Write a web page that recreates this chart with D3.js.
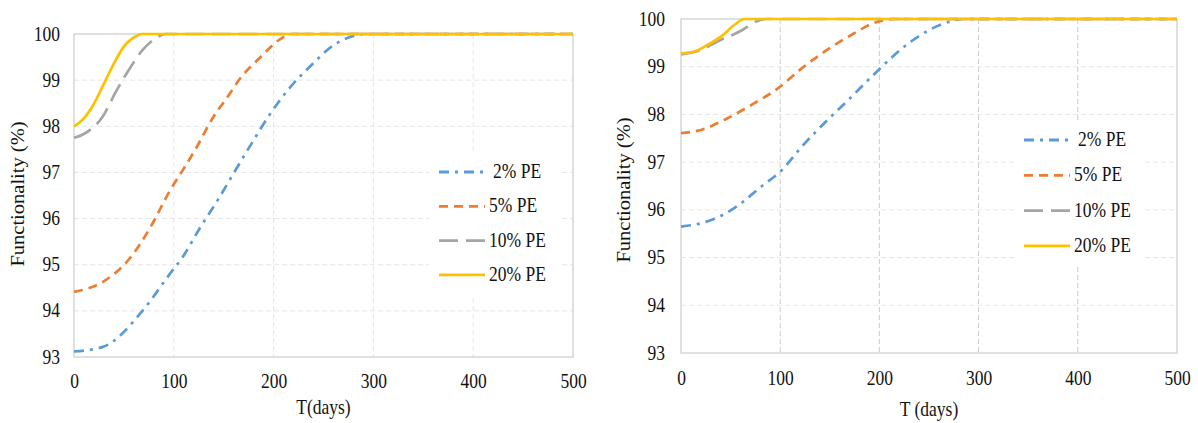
<!DOCTYPE html>
<html>
<head>
<meta charset="utf-8">
<script src="https://cdn.jsdelivr.net/npm/d3@7"></script>
<style>
  body { margin: 0; background: #fff; }
  svg text { font-family: "Liberation Serif", "Times New Roman", serif; }
</style>
</head>
<body>
<svg id="viz" width="1198" height="423"></svg>
<script>
// tick labels
var xTicks = [0, 100, 200, 300, 400, 500];
var yTicks = [93, 94, 95, 96, 97, 98, 99, 100];
var seriesNames = ["2% PE", "5% PE", "10% PE", "20% PE"];

// left chart
var leftDays2  = [0, 29, 69, 96, 109, 126, 144, 161, 178, 196, 216, 238, 261, 279, 290, 500];
var leftVals2  = [93.12, 93.22, 94.01, 94.8, 95.17, 95.79, 96.4, 97.02, 97.63, 98.25, 98.83, 99.33, 99.77, 99.95, 100, 100];
var leftDays5  = [0, 29, 56, 76, 96, 109, 123, 139, 153, 168, 186, 206, 218, 500];
var leftVals5  = [94.41, 94.63, 95.14, 95.79, 96.6, 97.05, 97.55, 98.18, 98.61, 99.08, 99.48, 99.88, 100, 100];
var leftDays10 = [0, 12, 29, 42, 56, 69, 82, 92, 500];
var leftVals10 = [97.75, 97.86, 98.22, 98.75, 99.26, 99.66, 99.91, 100, 100];
var leftDays20 = [0, 9, 19, 29, 39, 49, 62, 68, 500];
var leftVals20 = [98.0, 98.15, 98.45, 98.88, 99.32, 99.7, 99.95, 100, 100];

// right chart
var rightDays2  = [0, 27, 54, 81, 101, 122, 148, 169, 196, 230, 267, 285, 500];
var rightVals2  = [95.65, 95.76, 96.04, 96.49, 96.82, 97.33, 97.89, 98.31, 98.87, 99.5, 99.92, 100, 100];
var rightDays5  = [0, 21, 44, 71, 98, 122, 145, 172, 195, 215, 500];
var rightVals5  = [97.61, 97.68, 97.89, 98.2, 98.55, 98.97, 99.32, 99.67, 99.92, 100, 100];
var rightDays10 = [0, 21, 37, 61, 76, 86, 500];
var rightVals10 = [99.26, 99.36, 99.53, 99.76, 99.95, 100, 100];
var rightDays20 = [0, 14, 27, 41, 54, 64, 500];
var rightVals20 = [99.28, 99.32, 99.46, 99.64, 99.88, 100, 100];

var colors = ["#5B9BD5", "#ED7D31", "#A5A5A5", "#FFC000"];
var dashes = ["10,6,3,6", "9,6", "19,8", null];

var FONT = "'Liberation Serif', 'Times New Roman', serif";
var STRETCH = 1.15; // the source picture is a bit taller than wide

var svg = d3.select("#viz");

function zipSeries(days, vals) {
  return days.map(function(d, i) { return {t: d, v: vals[i]}; });
}

// horizontal text, stretched vertically like the source
function label(g, x, y, txt, anchor) {
  return g.append("text")
    .attr("transform", "translate(" + x + "," + y + ") scale(1," + STRETCH + ")")
    .attr("text-anchor", anchor || "start")
    .style("font-family", FONT)
    .attr("font-size", 17.5).attr("fill", "#111")
    .text(txt);
}

function drawChart(cfg) {
  var x = d3.scaleLinear().domain([0, 500]).range([cfg.left, cfg.right]);
  var y = d3.scaleLinear().domain([93, 100]).range([cfg.bottom, cfg.top]);
  var g = svg.append("g");

  // grid
  g.append("g").selectAll("line").data(yTicks.slice(1, -1))
    .enter().append("line")
    .attr("x1", cfg.left).attr("x2", cfg.right)
    .attr("y1", function(d) { return y(d); }).attr("y2", function(d) { return y(d); })
    .attr("stroke", cfg.hGrid).attr("stroke-width", 1).attr("stroke-dasharray", "5,3");
  g.append("g").selectAll("line").data(xTicks.slice(1, -1))
    .enter().append("line")
    .attr("x1", function(d) { return x(d); }).attr("x2", function(d) { return x(d); })
    .attr("y1", cfg.top).attr("y2", cfg.bottom)
    .attr("stroke", cfg.vGrid).attr("stroke-width", 1).attr("stroke-dasharray", "5,3");

  // plot border
  g.append("rect")
    .attr("x", cfg.left).attr("y", cfg.top)
    .attr("width", cfg.right - cfg.left).attr("height", cfg.bottom - cfg.top)
    .attr("fill", "none").attr("stroke", "#D0D0D0").attr("stroke-width", 1.3);

  // axes: tick labels only, the border is the axis line
  var xAxis = g.append("g")
    .attr("transform", "translate(0," + cfg.bottom + ")")
    .call(d3.axisBottom(x).tickValues(xTicks).tickSize(0).tickPadding(0).tickFormat(d3.format("d")));
  xAxis.selectAll("text")
    .attr("y", 0).attr("dy", null)
    .attr("transform", "translate(0," + cfg.xLab + ") scale(1," + STRETCH + ")");
  var yAxis = g.append("g")
    .attr("transform", "translate(" + cfg.left + ",0)")
    .call(d3.axisLeft(y).tickValues(yTicks).tickSize(0).tickPadding(0).tickFormat(d3.format("d")));
  yAxis.selectAll("text")
    .attr("x", 0).attr("dy", null)
    .attr("transform", "translate(" + (-cfg.yLab) + ",6) scale(1," + STRETCH + ")");
  [xAxis, yAxis].forEach(function(a) {
    a.attr("font-family", null);
    a.select(".domain").remove();
    a.selectAll("text").attr("font-size", 17.5).attr("fill", "#111").style("font-family", FONT);
  });

  // white box behind legend
  g.append("rect")
    .attr("x", cfg.legX - 10).attr("y", cfg.legY - 20)
    .attr("width", 130).attr("height", 3 * cfg.legStep + 40)
    .attr("fill", "#fff");

  // lines
  var line = d3.line()
    .x(function(d) { return x(d.t); })
    .y(function(d) { return y(d.v); })
    .curve(d3.curveMonotoneX);

  cfg.series.forEach(function(s, i) {
    g.append("path")
      .datum(zipSeries(s[0], s[1]))
      .attr("d", line)
      .attr("fill", "none")
      .attr("stroke", colors[i])
      .attr("stroke-width", 2.7)
      .attr("stroke-dasharray", dashes[i]);
  });

  // legend
  seriesNames.forEach(function(name, i) {
    var ly = cfg.legY + i * cfg.legStep;
    g.append("line")
      .attr("x1", cfg.legX).attr("x2", cfg.legX + 46)
      .attr("y1", ly).attr("y2", ly)
      .attr("stroke", colors[i]).attr("stroke-width", 2.8)
      .attr("stroke-dasharray", dashes[i]);
    label(g, cfg.legX + 50 + (i == 0 ? 4 : 0), ly + 6, name);
  });

  // axis titles
  label(g, (cfg.left + cfg.right) / 2, cfg.xTitleY, cfg.xTitle, "middle");
  g.append("text")
    .attr("transform", "translate(" + cfg.yTitleX + "," + cfg.yTitleMid + ") rotate(-90) scale(1," + (1 / STRETCH).toFixed(3) + ")")
    .attr("text-anchor", "middle")
    .style("font-family", FONT)
    .attr("font-size", 20.5).attr("fill", "#111")
    .text("Functionality (%)");
}

drawChart({
  left: 74, right: 573, top: 34, bottom: 357,
  hGrid: "#E6E6E6", vGrid: "#E6E6E6",
  xLab: 31, yLab: 14,
  legX: 439, legY: 172, legStep: 34.3,
  xTitle: "T(days)", xTitleY: 414,
  yTitleX: 24, yTitleMid: 194,
  series: [[leftDays2, leftVals2], [leftDays5, leftVals5], [leftDays10, leftVals10], [leftDays20, leftVals20]]
});

drawChart({
  left: 681, right: 1177, top: 19, bottom: 353,
  hGrid: "#E8E8E8", vGrid: "#CCCCCC",
  xLab: 32, yLab: 16,
  legX: 1024, legY: 140, legStep: 35.3,
  xTitle: "T (days)", xTitleY: 416,
  yTitleX: 630, yTitleMid: 190,
  series: [[rightDays2, rightVals2], [rightDays5, rightVals5], [rightDays10, rightVals10], [rightDays20, rightVals20]]
});
</script>
</body>
</html>
